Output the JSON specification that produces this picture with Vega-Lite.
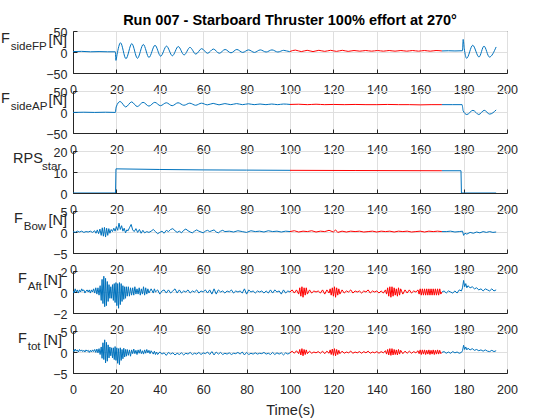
{
  "$schema": "https://vega.github.io/schema/vega-lite/v6.json",
  "background": "white",
  "padding": {"left": 0, "top": 12, "right": 0, "bottom": 0},
  "bounds": "flush",
  "spacing": 18,
  "title": {
    "text": "Run 007 - Starboard Thruster 100% effort at 270°",
    "fontSize": 14.5,
    "fontWeight": "bold",
    "color": "#000000",
    "anchor": "middle",
    "offset": -2
  },
  "config": {
    "font": "Liberation Sans",
    "view": {"stroke": "#262626", "strokeWidth": 1},
    "axis": {
      "domainColor": "#262626",
      "tickColor": "#262626",
      "labelColor": "#262626",
      "labelFont": "Liberation Sans",
      "labelFontSize": 12.5,
      "titleFont": "Liberation Sans",
      "titleFontSize": 14.5,
      "titleFontWeight": "normal",
      "titleColor": "#262626",
      "gridColor": "#dfdfdf",
      "grid": true,
      "tickSize": -4,
      "labelPadding": 10,
      "labelFlush": false,
      "labelOverlap": false
    },
    "axisX": {"labelPadding": 14},
    "axisY": {"labelOffset": 1.5},
    "title": {
      "font": "Liberation Sans",
      "fontSize": 14.5,
      "fontWeight": "normal",
      "color": "#262626",
      "subtitleFont": "Liberation Sans",
      "subtitleFontSize": 11.6,
      "subtitleColor": "#262626",
      "subtitlePadding": -5.4,
      "anchor": "start",
      "frame": "group",
      "offset": -27
    }
  },
  "datasets": {
    "fp": [
      {"t":0,"v":1,"s":"b1"},{"t":4,"v":1.5,"s":"b1"},{"t":8,"v":0.5,"s":"b1"},{"t":12,"v":1,"s":"b1"},{"t":16,"v":0.5,"s":"b1"},{"t":19.5,"v":0.5,"s":"b1"},
      {"t":19.8,"v":-20,"s":"b1"},{"t":20.3,"v":-6,"s":"b1"},{"t":21.9,"v":22,"s":"b1"},{"t":24.4,"v":-16,"s":"b1"},{"t":27.1,"v":20,"s":"b1"},{"t":29.7,"v":-15,"s":"b1"},
      {"t":32.4,"v":18,"s":"b1"},{"t":35,"v":-13,"s":"b1"},{"t":37.8,"v":16,"s":"b1"},{"t":40.4,"v":-10,"s":"b1"},{"t":43.1,"v":14,"s":"b1"},{"t":45.8,"v":-9,"s":"b1"},
      {"t":48.5,"v":13,"s":"b1"},{"t":51.2,"v":-7,"s":"b1"},{"t":53.9,"v":11,"s":"b1"},{"t":56.6,"v":-5,"s":"b1"},{"t":59.3,"v":8,"s":"b1"},{"t":62,"v":-3,"s":"b1"},
      {"t":64.7,"v":7,"s":"b1"},{"t":67.4,"v":-3,"s":"b1"},{"t":70.1,"v":6,"s":"b1"},{"t":72.8,"v":-2,"s":"b1"},{"t":75.5,"v":6,"s":"b1"},{"t":78.2,"v":-1,"s":"b1"},
      {"t":80.9,"v":5,"s":"b1"},{"t":83.6,"v":-1,"s":"b1"},{"t":86.3,"v":5,"s":"b1"},{"t":89,"v":0,"s":"b1"},{"t":91.7,"v":5,"s":"b1"},{"t":94.4,"v":0,"s":"b1"},
      {"t":97.1,"v":4,"s":"b1"},{"t":99.8,"v":1,"s":"b1"},{"t":100,"v":1.2,"s":"b1"},
      {"t":100,"v":1.2,"s":"r"},{"t":102.5,"v":4.5,"s":"r"},{"t":105.2,"v":1,"s":"r"},{"t":107.9,"v":4,"s":"r"},{"t":110.6,"v":1,"s":"r"},{"t":113.3,"v":4,"s":"r"},
      {"t":116,"v":1.5,"s":"r"},{"t":118.7,"v":4,"s":"r"},{"t":121.4,"v":1.5,"s":"r"},{"t":124.1,"v":4,"s":"r"},{"t":126.8,"v":1.5,"s":"r"},{"t":129.5,"v":3.5,"s":"r"},
      {"t":132.2,"v":2,"s":"r"},{"t":134.9,"v":3.5,"s":"r"},{"t":137.6,"v":2,"s":"r"},{"t":140.3,"v":3.5,"s":"r"},{"t":143,"v":2,"s":"r"},{"t":145.7,"v":3.5,"s":"r"},
      {"t":148.4,"v":2,"s":"r"},{"t":151.1,"v":3.5,"s":"r"},{"t":153.8,"v":2,"s":"r"},{"t":156.5,"v":3.5,"s":"r"},{"t":159.2,"v":2,"s":"r"},{"t":161.9,"v":3.5,"s":"r"},
      {"t":164.6,"v":2,"s":"r"},{"t":167.3,"v":3.5,"s":"r"},{"t":170,"v":2.5,"s":"r"},
      {"t":170,"v":2.5,"s":"b2"},{"t":173,"v":3,"s":"b2"},{"t":176,"v":2.5,"s":"b2"},{"t":179.5,"v":3,"s":"b2"},{"t":179.8,"v":30,"s":"b2"},{"t":180.3,"v":8,"s":"b2"},
      {"t":181.4,"v":-15,"s":"b2"},{"t":184.2,"v":16,"s":"b2"},{"t":187.1,"v":-12,"s":"b2"},{"t":189.4,"v":14,"s":"b2"},{"t":191.9,"v":-12,"s":"b2"},{"t":195,"v":12,"s":"b2"}
    ],
    "ap": [
      {"t":0,"v":-1,"s":"b1"},{"t":5,"v":-0.5,"s":"b1"},{"t":10,"v":-1,"s":"b1"},{"t":15,"v":-0.5,"s":"b1"},{"t":19.5,"v":-1,"s":"b1"},{"t":19.9,"v":12,"s":"b1"},
      {"t":21.7,"v":25,"s":"b1"},{"t":24.3,"v":12,"s":"b1"},{"t":27,"v":24,"s":"b1"},{"t":29.6,"v":13,"s":"b1"},{"t":32.3,"v":23,"s":"b1"},{"t":35,"v":14,"s":"b1"},
      {"t":37.7,"v":23,"s":"b1"},{"t":40.3,"v":15,"s":"b1"},{"t":43,"v":22,"s":"b1"},{"t":45.7,"v":15,"s":"b1"},{"t":48.4,"v":22,"s":"b1"},{"t":51.1,"v":16,"s":"b1"},
      {"t":53.8,"v":21,"s":"b1"},{"t":56.5,"v":16,"s":"b1"},{"t":59.2,"v":21,"s":"b1"},{"t":61.9,"v":17,"s":"b1"},{"t":64.6,"v":20.5,"s":"b1"},{"t":67.3,"v":17,"s":"b1"},
      {"t":70,"v":20,"s":"b1"},{"t":72.7,"v":17.5,"s":"b1"},{"t":75.4,"v":20,"s":"b1"},{"t":78.1,"v":17.5,"s":"b1"},{"t":80.8,"v":19.5,"s":"b1"},{"t":83.5,"v":17.5,"s":"b1"},
      {"t":86.2,"v":19,"s":"b1"},{"t":88.9,"v":17.5,"s":"b1"},{"t":91.6,"v":19,"s":"b1"},{"t":94.3,"v":17.5,"s":"b1"},{"t":97,"v":19,"s":"b1"},{"t":100,"v":18,"s":"b1"},
      {"t":100,"v":18,"s":"r"},{"t":104,"v":18.5,"s":"r"},{"t":108,"v":17.5,"s":"r"},{"t":112,"v":18.5,"s":"r"},{"t":116,"v":17.5,"s":"r"},{"t":120,"v":18,"s":"r"},
      {"t":125,"v":17.5,"s":"r"},{"t":130,"v":18,"s":"r"},{"t":135,"v":17.5,"s":"r"},{"t":140,"v":17.5,"s":"r"},{"t":145,"v":18,"s":"r"},{"t":150,"v":17.5,"s":"r"},
      {"t":155,"v":17.5,"s":"r"},{"t":160,"v":17,"s":"r"},{"t":165,"v":17.5,"s":"r"},{"t":170,"v":17.5,"s":"r"},
      {"t":170,"v":17.5,"s":"b2"},{"t":175,"v":17.5,"s":"b2"},{"t":179.3,"v":17.5,"s":"b2"},{"t":179.8,"v":3,"s":"b2"},{"t":181.5,"v":-6,"s":"b2"},{"t":184.3,"v":4,"s":"b2"},
      {"t":187,"v":-6,"s":"b2"},{"t":189.5,"v":4,"s":"b2"},{"t":192,"v":-5,"s":"b2"},{"t":195,"v":5,"s":"b2"}
    ],
    "rps": [
      {"t":0,"v":0,"s":"b1"},{"t":19.6,"v":0,"s":"b1"},{"t":19.8,"v":11.5,"s":"b1"},{"t":40,"v":11.2,"s":"b1"},{"t":60,"v":11,"s":"b1"},{"t":80,"v":10.9,"s":"b1"},{"t":100,"v":10.8,"s":"b1"},
      {"t":100,"v":10.8,"s":"r"},{"t":130,"v":10.7,"s":"r"},{"t":170,"v":10.6,"s":"r"},
      {"t":170,"v":10.6,"s":"b2"},{"t":178.8,"v":10.6,"s":"b2"},{"t":179,"v":0,"s":"b2"},{"t":195,"v":0,"s":"b2"}
    ],
    "bow": [
      {"t":0,"v":0.1,"s":"b1"},{"t":1,"v":-0.1,"s":"b1"},{"t":2,"v":0.2,"s":"b1"},{"t":3,"v":0,"s":"b1"},{"t":4,"v":0.2,"s":"b1"},{"t":5,"v":-0.1,"s":"b1"},
      {"t":6,"v":0.1,"s":"b1"},{"t":7,"v":0,"s":"b1"},{"t":8,"v":0.2,"s":"b1"},{"t":9,"v":-0.1,"s":"b1"},{"t":10,"v":0.3,"s":"b1"},{"t":10.6,"v":-0.3,"s":"b1"},
      {"t":11.2,"v":0.5,"s":"b1"},{"t":11.8,"v":-0.4,"s":"b1"},{"t":12.4,"v":0.7,"s":"b1"},{"t":13,"v":-0.8,"s":"b1"},{"t":13.5,"v":1,"s":"b1"},{"t":14,"v":-1,"s":"b1"},
      {"t":14.5,"v":1.1,"s":"b1"},{"t":15,"v":-1.2,"s":"b1"},{"t":15.5,"v":0.9,"s":"b1"},{"t":16,"v":-0.8,"s":"b1"},{"t":16.5,"v":0.8,"s":"b1"},{"t":17,"v":-0.3,"s":"b1"},
      {"t":17.6,"v":0.6,"s":"b1"},{"t":18.2,"v":0.1,"s":"b1"},{"t":18.8,"v":0.9,"s":"b1"},{"t":19.4,"v":0.2,"s":"b1"},{"t":20,"v":1.3,"s":"b1"},{"t":20.6,"v":0.4,"s":"b1"},
      {"t":21.2,"v":2.1,"s":"b1"},{"t":21.8,"v":0.6,"s":"b1"},{"t":22.4,"v":1.5,"s":"b1"},{"t":23,"v":0.2,"s":"b1"},{"t":23.6,"v":0.9,"s":"b1"},{"t":24.2,"v":-0.2,"s":"b1"},
      {"t":24.8,"v":0.5,"s":"b1"},{"t":25.4,"v":0.3,"s":"b1"},{"t":26,"v":1,"s":"b1"},{"t":26.8,"v":1.8,"s":"b1"},{"t":27.5,"v":0.5,"s":"b1"},{"t":28.2,"v":0.1,"s":"b1"},
      {"t":29,"v":0.8,"s":"b1"},{"t":29.8,"v":-0.1,"s":"b1"},{"t":30.6,"v":0.6,"s":"b1"},{"t":31.4,"v":-0.3,"s":"b1"},{"t":32.2,"v":0.4,"s":"b1"},{"t":33,"v":-0.2,"s":"b1"},
      {"t":34,"v":0.1,"s":"b1"},{"t":35,"v":-0.1,"s":"b1"},{"t":36,"v":0.2,"s":"b1"},{"t":37,"v":0.6,"s":"b1"},{"t":38,"v":0.1,"s":"b1"},{"t":39,"v":-0.4,"s":"b1"},
      {"t":40,"v":-0.1,"s":"b1"},{"t":41,"v":0.2,"s":"b1"},{"t":42,"v":-0.3,"s":"b1"},{"t":43,"v":0.4,"s":"b1"},{"t":44,"v":0.1,"s":"b1"},{"t":45,"v":0.6,"s":"b1"},
      {"t":46,"v":0.8,"s":"b1"},{"t":47,"v":0.3,"s":"b1"},{"t":48,"v":-0.1,"s":"b1"},{"t":49,"v":0.2,"s":"b1"},{"t":50,"v":-0.2,"s":"b1"},{"t":51,"v":0.4,"s":"b1"},
      {"t":52,"v":0.7,"s":"b1"},{"t":53,"v":0.3,"s":"b1"},{"t":54,"v":0,"s":"b1"},{"t":55,"v":-0.2,"s":"b1"},{"t":56,"v":0.2,"s":"b1"},{"t":57,"v":0.5,"s":"b1"},
      {"t":58,"v":0.2,"s":"b1"},{"t":59,"v":0,"s":"b1"},{"t":60,"v":-0.2,"s":"b1"},{"t":61,"v":0.2,"s":"b1"},{"t":62,"v":0.4,"s":"b1"},{"t":63,"v":0.1,"s":"b1"},
      {"t":64,"v":0.3,"s":"b1"},{"t":65,"v":0.5,"s":"b1"},{"t":66,"v":0,"s":"b1"},{"t":67,"v":-0.2,"s":"b1"},{"t":68,"v":0.2,"s":"b1"},{"t":69,"v":0.4,"s":"b1"},
      {"t":70,"v":0.1,"s":"b1"},{"t":72,"v":0.2,"s":"b1"},{"t":74,"v":0,"s":"b1"},{"t":76,"v":0.3,"s":"b1"},{"t":78,"v":0.1,"s":"b1"},{"t":80,"v":-0.1,"s":"b1"},
      {"t":82,"v":0.3,"s":"b1"},{"t":84,"v":0.1,"s":"b1"},{"t":86,"v":0.2,"s":"b1"},{"t":88,"v":0,"s":"b1"},{"t":90,"v":0.3,"s":"b1"},{"t":92,"v":0.1,"s":"b1"},
      {"t":94,"v":0.2,"s":"b1"},{"t":96,"v":0,"s":"b1"},{"t":98,"v":0.2,"s":"b1"},{"t":100,"v":0.1,"s":"b1"},
      {"t":100,"v":0.1,"s":"r"},{"t":102,"v":0.3,"s":"r"},{"t":104,"v":0,"s":"r"},{"t":106,"v":0.2,"s":"r"},{"t":108,"v":0.1,"s":"r"},{"t":110,"v":0.3,"s":"r"},
      {"t":112,"v":0,"s":"r"},{"t":114,"v":0.2,"s":"r"},{"t":116,"v":0.1,"s":"r"},{"t":118,"v":0.4,"s":"r"},{"t":120,"v":0,"s":"r"},{"t":121,"v":0.5,"s":"r"},
      {"t":122,"v":-0.1,"s":"r"},{"t":124,"v":0.2,"s":"r"},{"t":126,"v":0,"s":"r"},{"t":128,"v":0.2,"s":"r"},{"t":130,"v":0.1,"s":"r"},{"t":132,"v":0.2,"s":"r"},
      {"t":134,"v":0,"s":"r"},{"t":136,"v":0.1,"s":"r"},{"t":138,"v":0.2,"s":"r"},{"t":140,"v":0,"s":"r"},{"t":142,"v":0.2,"s":"r"},{"t":144,"v":0.1,"s":"r"},
      {"t":146,"v":0.2,"s":"r"},{"t":148,"v":0,"s":"r"},{"t":150,"v":0.2,"s":"r"},{"t":152,"v":0.1,"s":"r"},{"t":154,"v":0.2,"s":"r"},{"t":156,"v":0,"s":"r"},
      {"t":158,"v":0.1,"s":"r"},{"t":160,"v":0.2,"s":"r"},{"t":162,"v":0,"s":"r"},{"t":164,"v":0.2,"s":"r"},{"t":166,"v":0.1,"s":"r"},{"t":168,"v":0.2,"s":"r"},
      {"t":170,"v":0.1,"s":"r"},
      {"t":170,"v":0.1,"s":"b2"},{"t":172,"v":0.1,"s":"b2"},{"t":174,"v":0.2,"s":"b2"},{"t":176,"v":0,"s":"b2"},{"t":178,"v":0.1,"s":"b2"},{"t":179.5,"v":0.2,"s":"b2"},
      {"t":180,"v":-0.8,"s":"b2"},{"t":180.6,"v":-0.3,"s":"b2"},{"t":181.5,"v":-0.5,"s":"b2"},{"t":183,"v":-0.1,"s":"b2"},{"t":184.5,"v":-0.3,"s":"b2"},{"t":186,"v":0,"s":"b2"},
      {"t":187.5,"v":-0.2,"s":"b2"},{"t":189,"v":0.1,"s":"b2"},{"t":190.5,"v":-0.1,"s":"b2"},{"t":192,"v":0.1,"s":"b2"},{"t":193.5,"v":-0.1,"s":"b2"},{"t":195,"v":0,"s":"b2"}
    ],
    "aft": [
      {"t":0,"v":0.1,"s":"b1"},{"t":0.5,"v":-0.1,"s":"b1"},{"t":1,"v":0.3,"s":"b1"},{"t":1.5,"v":0,"s":"b1"},{"t":2,"v":0.2,"s":"b1"},{"t":2.5,"v":-0.1,"s":"b1"},
      {"t":3,"v":0.2,"s":"b1"},{"t":3.5,"v":0,"s":"b1"},{"t":4,"v":0.3,"s":"b1"},{"t":4.5,"v":0.1,"s":"b1"},{"t":5,"v":0.2,"s":"b1"},{"t":5.5,"v":-0.1,"s":"b1"},
      {"t":6,"v":0.1,"s":"b1"},{"t":6.5,"v":0.2,"s":"b1"},{"t":7,"v":0,"s":"b1"},{"t":7.5,"v":0.2,"s":"b1"},{"t":8,"v":-0.1,"s":"b1"},{"t":8.5,"v":0.2,"s":"b1"},
      {"t":9,"v":0,"s":"b1"},{"t":9.5,"v":0.3,"s":"b1"},{"t":10,"v":-0.1,"s":"b1"},{"t":10.5,"v":0.4,"s":"b1"},{"t":11,"v":-0.2,"s":"b1"},{"t":11.5,"v":0.4,"s":"b1"},
      {"t":12,"v":-0.3,"s":"b1"},{"t":12.5,"v":0.6,"s":"b1"},{"t":13,"v":-0.8,"s":"b1"},{"t":13.4,"v":1.2,"s":"b1"},{"t":13.8,"v":-1.1,"s":"b1"},{"t":14.2,"v":1.5,"s":"b1"},
      {"t":14.6,"v":-1.4,"s":"b1"},{"t":15,"v":1.3,"s":"b1"},{"t":15.4,"v":-1.3,"s":"b1"},{"t":15.8,"v":1,"s":"b1"},{"t":16.2,"v":-0.9,"s":"b1"},{"t":16.6,"v":0.7,"s":"b1"},
      {"t":17,"v":-0.6,"s":"b1"},{"t":17.4,"v":0.5,"s":"b1"},{"t":17.8,"v":-0.6,"s":"b1"},{"t":18.2,"v":0.7,"s":"b1"},{"t":18.6,"v":-0.8,"s":"b1"},{"t":19,"v":0.8,"s":"b1"},
      {"t":19.4,"v":-1,"s":"b1"},{"t":19.8,"v":0.9,"s":"b1"},{"t":20.2,"v":-1.3,"s":"b1"},{"t":20.6,"v":0.8,"s":"b1"},{"t":21,"v":-1.55,"s":"b1"},{"t":21.4,"v":0.9,"s":"b1"},
      {"t":21.8,"v":-1.2,"s":"b1"},{"t":22.2,"v":0.8,"s":"b1"},{"t":22.6,"v":-0.9,"s":"b1"},{"t":23,"v":0.6,"s":"b1"},{"t":23.4,"v":-0.7,"s":"b1"},{"t":23.8,"v":0.5,"s":"b1"},
      {"t":24.2,"v":-0.6,"s":"b1"},{"t":24.6,"v":0.5,"s":"b1"},{"t":25,"v":-0.4,"s":"b1"},{"t":25.5,"v":0.5,"s":"b1"},{"t":26,"v":-0.4,"s":"b1"},{"t":26.5,"v":0.4,"s":"b1"},
      {"t":27,"v":-0.3,"s":"b1"},{"t":27.5,"v":0.4,"s":"b1"},{"t":28,"v":-0.3,"s":"b1"},{"t":28.5,"v":0.5,"s":"b1"},{"t":29,"v":-0.2,"s":"b1"},{"t":29.5,"v":0.3,"s":"b1"},
      {"t":30,"v":-0.2,"s":"b1"},{"t":30.5,"v":0.4,"s":"b1"},{"t":31,"v":-0.3,"s":"b1"},{"t":31.5,"v":0.3,"s":"b1"},{"t":32,"v":-0.2,"s":"b1"},{"t":32.5,"v":0.5,"s":"b1"},
      {"t":33,"v":-0.3,"s":"b1"},{"t":33.5,"v":0.4,"s":"b1"},{"t":34,"v":-0.2,"s":"b1"},{"t":34.5,"v":0.3,"s":"b1"},{"t":35,"v":-0.1,"s":"b1"},{"t":36,"v":0.3,"s":"b1"},
      {"t":37,"v":-0.1,"s":"b1"},{"t":37.5,"v":0.3,"s":"b1"},{"t":38,"v":0,"s":"b1"},{"t":39,"v":0.2,"s":"b1"},{"t":40,"v":-0.2,"s":"b1"},{"t":41,"v":0.1,"s":"b1"},
      {"t":42,"v":0.2,"s":"b1"},{"t":43,"v":-0.1,"s":"b1"},{"t":44,"v":0.2,"s":"b1"},{"t":45,"v":-0.1,"s":"b1"},{"t":46,"v":0.1,"s":"b1"},{"t":47,"v":0.3,"s":"b1"},
      {"t":48,"v":-0.1,"s":"b1"},{"t":49,"v":0.2,"s":"b1"},{"t":50,"v":-0.1,"s":"b1"},{"t":51,"v":0.1,"s":"b1"},{"t":52,"v":0,"s":"b1"},{"t":53,"v":0.2,"s":"b1"},
      {"t":54,"v":-0.1,"s":"b1"},{"t":55,"v":0.1,"s":"b1"},{"t":56,"v":0,"s":"b1"},{"t":57,"v":0.2,"s":"b1"},{"t":58,"v":-0.1,"s":"b1"},{"t":59,"v":0.1,"s":"b1"},
      {"t":60,"v":0,"s":"b1"},{"t":61,"v":0.2,"s":"b1"},{"t":62,"v":-0.1,"s":"b1"},{"t":63,"v":0.2,"s":"b1"},{"t":64,"v":-0.2,"s":"b1"},{"t":65,"v":0.3,"s":"b1"},
      {"t":66,"v":-0.2,"s":"b1"},{"t":67,"v":0.2,"s":"b1"},{"t":68,"v":0,"s":"b1"},{"t":69,"v":0.1,"s":"b1"},{"t":70,"v":-0.1,"s":"b1"},{"t":71,"v":0.1,"s":"b1"},
      {"t":72,"v":0,"s":"b1"},{"t":73,"v":0.2,"s":"b1"},{"t":74,"v":-0.1,"s":"b1"},{"t":75,"v":0.1,"s":"b1"},{"t":76,"v":0,"s":"b1"},{"t":77,"v":0.1,"s":"b1"},
      {"t":78,"v":-0.1,"s":"b1"},{"t":79,"v":0.3,"s":"b1"},{"t":80,"v":-0.2,"s":"b1"},{"t":81,"v":0.2,"s":"b1"},{"t":82,"v":0,"s":"b1"},{"t":83,"v":0.1,"s":"b1"},
      {"t":84,"v":-0.1,"s":"b1"},{"t":85,"v":0.1,"s":"b1"},{"t":86,"v":0,"s":"b1"},{"t":87,"v":0.1,"s":"b1"},{"t":88,"v":-0.1,"s":"b1"},{"t":89,"v":0.1,"s":"b1"},
      {"t":90,"v":-0.1,"s":"b1"},{"t":91,"v":0.2,"s":"b1"},{"t":92,"v":-0.1,"s":"b1"},{"t":93,"v":0.2,"s":"b1"},{"t":94,"v":0,"s":"b1"},{"t":95,"v":0.1,"s":"b1"},
      {"t":96,"v":-0.2,"s":"b1"},{"t":97,"v":0.2,"s":"b1"},{"t":98,"v":-0.1,"s":"b1"},{"t":99,"v":0.1,"s":"b1"},{"t":100,"v":0,"s":"b1"},
      {"t":100,"v":0,"s":"r"},{"t":101,"v":0.2,"s":"r"},{"t":102,"v":-0.1,"s":"r"},{"t":103,"v":0.2,"s":"r"},{"t":104,"v":-0.2,"s":"r"},{"t":104.5,"v":0.4,"s":"r"},
      {"t":105,"v":-0.4,"s":"r"},{"t":105.5,"v":0.5,"s":"r"},{"t":106,"v":-0.5,"s":"r"},{"t":106.5,"v":0.4,"s":"r"},{"t":107,"v":-0.3,"s":"r"},{"t":107.5,"v":0.4,"s":"r"},
      {"t":108,"v":-0.2,"s":"r"},{"t":109,"v":0.2,"s":"r"},{"t":110,"v":-0.1,"s":"r"},{"t":111,"v":0.1,"s":"r"},{"t":112,"v":0,"s":"r"},{"t":113,"v":0.1,"s":"r"},
      {"t":114,"v":-0.1,"s":"r"},{"t":115,"v":0.2,"s":"r"},{"t":116,"v":-0.2,"s":"r"},{"t":117,"v":0.2,"s":"r"},{"t":118,"v":-0.1,"s":"r"},{"t":118.5,"v":0.3,"s":"r"},
      {"t":119,"v":-0.3,"s":"r"},{"t":119.5,"v":0.4,"s":"r"},{"t":120,"v":-0.4,"s":"r"},{"t":120.5,"v":0.5,"s":"r"},{"t":121,"v":-0.5,"s":"r"},{"t":121.5,"v":0.4,"s":"r"},
      {"t":122,"v":-0.3,"s":"r"},{"t":122.5,"v":0.3,"s":"r"},{"t":123,"v":-0.2,"s":"r"},{"t":124,"v":0.2,"s":"r"},{"t":125,"v":-0.1,"s":"r"},{"t":126,"v":0.1,"s":"r"},
      {"t":127,"v":0,"s":"r"},{"t":128,"v":0.2,"s":"r"},{"t":129,"v":-0.1,"s":"r"},{"t":130,"v":0.1,"s":"r"},{"t":131,"v":0,"s":"r"},{"t":132,"v":0.1,"s":"r"},
      {"t":133,"v":-0.1,"s":"r"},{"t":134,"v":0.1,"s":"r"},{"t":135,"v":0,"s":"r"},{"t":136,"v":0.2,"s":"r"},{"t":137,"v":-0.1,"s":"r"},{"t":138,"v":0.1,"s":"r"},
      {"t":139,"v":0,"s":"r"},{"t":140,"v":0.1,"s":"r"},{"t":141,"v":-0.1,"s":"r"},{"t":142,"v":0.1,"s":"r"},{"t":143,"v":-0.1,"s":"r"},{"t":144,"v":0.2,"s":"r"},
      {"t":144.5,"v":-0.2,"s":"r"},{"t":145,"v":0.4,"s":"r"},{"t":145.5,"v":-0.4,"s":"r"},{"t":146,"v":0.5,"s":"r"},{"t":146.5,"v":-0.5,"s":"r"},{"t":147,"v":0.5,"s":"r"},
      {"t":147.5,"v":-0.4,"s":"r"},{"t":148,"v":0.4,"s":"r"},{"t":148.5,"v":-0.3,"s":"r"},{"t":149,"v":0.3,"s":"r"},{"t":149.5,"v":-0.4,"s":"r"},{"t":150,"v":0.4,"s":"r"},
      {"t":150.5,"v":-0.3,"s":"r"},{"t":151,"v":0.3,"s":"r"},{"t":152,"v":-0.2,"s":"r"},{"t":153,"v":0.2,"s":"r"},{"t":154,"v":-0.1,"s":"r"},{"t":155,"v":0.2,"s":"r"},
      {"t":156,"v":-0.1,"s":"r"},{"t":157,"v":0.1,"s":"r"},{"t":158,"v":0,"s":"r"},{"t":159,"v":0.2,"s":"r"},{"t":159.5,"v":-0.2,"s":"r"},{"t":160,"v":0.3,"s":"r"},
      {"t":160.5,"v":-0.3,"s":"r"},{"t":161,"v":0.3,"s":"r"},{"t":161.5,"v":-0.3,"s":"r"},{"t":162,"v":0.3,"s":"r"},{"t":162.5,"v":-0.3,"s":"r"},{"t":163,"v":0.3,"s":"r"},
      {"t":163.5,"v":-0.3,"s":"r"},{"t":164,"v":0.3,"s":"r"},{"t":164.5,"v":-0.3,"s":"r"},{"t":165,"v":0.3,"s":"r"},{"t":165.5,"v":-0.3,"s":"r"},{"t":166,"v":0.3,"s":"r"},
      {"t":166.5,"v":-0.3,"s":"r"},{"t":167,"v":0.3,"s":"r"},{"t":167.5,"v":-0.3,"s":"r"},{"t":168,"v":0.3,"s":"r"},{"t":168.5,"v":-0.3,"s":"r"},{"t":169,"v":0.3,"s":"r"},
      {"t":169.5,"v":-0.2,"s":"r"},{"t":170,"v":0,"s":"r"},
      {"t":170,"v":0,"s":"b2"},{"t":171,"v":0.1,"s":"b2"},{"t":172,"v":-0.1,"s":"b2"},{"t":173,"v":0.1,"s":"b2"},{"t":174,"v":0,"s":"b2"},{"t":175,"v":-0.1,"s":"b2"},
      {"t":176,"v":0.1,"s":"b2"},{"t":177,"v":-0.1,"s":"b2"},{"t":178,"v":0.2,"s":"b2"},{"t":179,"v":0.1,"s":"b2"},{"t":179.5,"v":0.4,"s":"b2"},{"t":180,"v":1.1,"s":"b2"},
      {"t":180.5,"v":0.5,"s":"b2"},{"t":181,"v":0.8,"s":"b2"},{"t":181.5,"v":0.4,"s":"b2"},{"t":182,"v":0.6,"s":"b2"},{"t":183,"v":0.4,"s":"b2"},{"t":184,"v":0.5,"s":"b2"},
      {"t":185,"v":0.3,"s":"b2"},{"t":186,"v":0.4,"s":"b2"},{"t":187,"v":0.2,"s":"b2"},{"t":188,"v":0.3,"s":"b2"},{"t":189,"v":0.1,"s":"b2"},{"t":190,"v":0.3,"s":"b2"},
      {"t":191,"v":0.2,"s":"b2"},{"t":192,"v":0.1,"s":"b2"},{"t":193,"v":0.3,"s":"b2"},{"t":194,"v":0.1,"s":"b2"},{"t":195,"v":0.2,"s":"b2"}
    ],
    "tot": [
      {"t":0,"v":0.5,"s":"b1"},{"t":0.5,"v":0.1,"s":"b1"},{"t":1,"v":0.7,"s":"b1"},{"t":1.5,"v":0.2,"s":"b1"},{"t":2,"v":0.5,"s":"b1"},{"t":2.5,"v":0,"s":"b1"},
      {"t":3,"v":0.6,"s":"b1"},{"t":3.5,"v":0.2,"s":"b1"},{"t":4,"v":0.5,"s":"b1"},{"t":4.5,"v":0.1,"s":"b1"},{"t":5,"v":0.4,"s":"b1"},{"t":5.5,"v":0,"s":"b1"},
      {"t":6,"v":0.5,"s":"b1"},{"t":6.5,"v":0.2,"s":"b1"},{"t":7,"v":0.4,"s":"b1"},{"t":7.5,"v":-0.1,"s":"b1"},{"t":8,"v":0.4,"s":"b1"},{"t":8.5,"v":0,"s":"b1"},
      {"t":9,"v":0.5,"s":"b1"},{"t":9.5,"v":0.1,"s":"b1"},{"t":10,"v":0.6,"s":"b1"},{"t":10.5,"v":-0.1,"s":"b1"},{"t":11,"v":0.7,"s":"b1"},{"t":11.5,"v":-0.2,"s":"b1"},
      {"t":12,"v":0.8,"s":"b1"},{"t":12.5,"v":-0.6,"s":"b1"},{"t":13,"v":1.2,"s":"b1"},{"t":13.4,"v":-1.5,"s":"b1"},{"t":13.8,"v":2.2,"s":"b1"},{"t":14.2,"v":-1.8,"s":"b1"},
      {"t":14.6,"v":2.9,"s":"b1"},{"t":15,"v":-2.6,"s":"b1"},{"t":15.4,"v":2.3,"s":"b1"},{"t":15.8,"v":-2.2,"s":"b1"},{"t":16.2,"v":1.7,"s":"b1"},{"t":16.6,"v":-1.4,"s":"b1"},
      {"t":17,"v":1.2,"s":"b1"},{"t":17.4,"v":-0.9,"s":"b1"},{"t":17.8,"v":1,"s":"b1"},{"t":18.2,"v":-1.4,"s":"b1"},{"t":18.6,"v":1,"s":"b1"},{"t":19,"v":-1.8,"s":"b1"},
      {"t":19.4,"v":1.3,"s":"b1"},{"t":19.8,"v":-2,"s":"b1"},{"t":20.2,"v":1,"s":"b1"},{"t":20.6,"v":-2.7,"s":"b1"},{"t":21,"v":0.8,"s":"b1"},{"t":21.4,"v":-3,"s":"b1"},
      {"t":21.8,"v":1,"s":"b1"},{"t":22.2,"v":-2,"s":"b1"},{"t":22.6,"v":0.6,"s":"b1"},{"t":23,"v":-1.6,"s":"b1"},{"t":23.4,"v":0.9,"s":"b1"},{"t":23.8,"v":-1.2,"s":"b1"},
      {"t":24.2,"v":0.6,"s":"b1"},{"t":24.6,"v":-1,"s":"b1"},{"t":25,"v":0.6,"s":"b1"},{"t":25.5,"v":-0.8,"s":"b1"},{"t":26,"v":0.5,"s":"b1"},{"t":26.5,"v":-1,"s":"b1"},
      {"t":27,"v":0.5,"s":"b1"},{"t":27.5,"v":-0.4,"s":"b1"},{"t":28,"v":0.7,"s":"b1"},{"t":28.5,"v":-0.4,"s":"b1"},{"t":29,"v":0.4,"s":"b1"},{"t":29.5,"v":-0.6,"s":"b1"},
      {"t":30,"v":0.5,"s":"b1"},{"t":30.5,"v":-0.3,"s":"b1"},{"t":31,"v":0.6,"s":"b1"},{"t":31.5,"v":-0.4,"s":"b1"},{"t":32,"v":0.3,"s":"b1"},{"t":32.5,"v":-0.5,"s":"b1"},
      {"t":33,"v":0.5,"s":"b1"},{"t":33.5,"v":-0.3,"s":"b1"},{"t":34,"v":0.6,"s":"b1"},{"t":34.5,"v":-0.2,"s":"b1"},{"t":35,"v":0.4,"s":"b1"},{"t":35.5,"v":-0.4,"s":"b1"},
      {"t":36,"v":0.3,"s":"b1"},{"t":37,"v":-0.5,"s":"b1"},{"t":37.5,"v":0.2,"s":"b1"},{"t":38,"v":-0.6,"s":"b1"},{"t":38.5,"v":0,"s":"b1"},{"t":39,"v":-0.6,"s":"b1"},
      {"t":40,"v":0,"s":"b1"},{"t":41,"v":-0.5,"s":"b1"},{"t":42,"v":-0.2,"s":"b1"},{"t":43,"v":-0.8,"s":"b1"},{"t":44,"v":-0.1,"s":"b1"},{"t":45,"v":-0.5,"s":"b1"},
      {"t":46,"v":-0.2,"s":"b1"},{"t":47,"v":-0.7,"s":"b1"},{"t":48,"v":-0.3,"s":"b1"},{"t":49,"v":-0.6,"s":"b1"},{"t":50,"v":-0.2,"s":"b1"},{"t":51,"v":-0.7,"s":"b1"},
      {"t":52,"v":-0.3,"s":"b1"},{"t":53,"v":-0.5,"s":"b1"},{"t":54,"v":-0.1,"s":"b1"},{"t":55,"v":-0.6,"s":"b1"},{"t":56,"v":-0.3,"s":"b1"},{"t":57,"v":-0.5,"s":"b1"},
      {"t":58,"v":-0.1,"s":"b1"},{"t":59,"v":-0.6,"s":"b1"},{"t":60,"v":-0.2,"s":"b1"},{"t":61,"v":-0.4,"s":"b1"},{"t":62,"v":0,"s":"b1"},{"t":63,"v":-0.6,"s":"b1"},
      {"t":64,"v":0.1,"s":"b1"},{"t":65,"v":-0.7,"s":"b1"},{"t":66,"v":0,"s":"b1"},{"t":67,"v":-0.5,"s":"b1"},{"t":68,"v":-0.1,"s":"b1"},{"t":69,"v":-0.6,"s":"b1"},
      {"t":70,"v":-0.3,"s":"b1"},{"t":71,"v":-0.5,"s":"b1"},{"t":72,"v":-0.2,"s":"b1"},{"t":73,"v":-0.6,"s":"b1"},{"t":74,"v":-0.3,"s":"b1"},{"t":75,"v":-0.4,"s":"b1"},
      {"t":76,"v":-0.1,"s":"b1"},{"t":77,"v":-0.5,"s":"b1"},{"t":78,"v":0,"s":"b1"},{"t":79,"v":-0.7,"s":"b1"},{"t":80,"v":-0.1,"s":"b1"},{"t":81,"v":-0.6,"s":"b1"},
      {"t":82,"v":-0.3,"s":"b1"},{"t":83,"v":-0.5,"s":"b1"},{"t":84,"v":-0.2,"s":"b1"},{"t":85,"v":-0.5,"s":"b1"},{"t":86,"v":-0.3,"s":"b1"},{"t":87,"v":-0.4,"s":"b1"},
      {"t":88,"v":-0.1,"s":"b1"},{"t":89,"v":-0.5,"s":"b1"},{"t":90,"v":-0.3,"s":"b1"},{"t":91,"v":-0.6,"s":"b1"},{"t":92,"v":-0.1,"s":"b1"},{"t":93,"v":-0.6,"s":"b1"},
      {"t":94,"v":-0.2,"s":"b1"},{"t":95,"v":-0.5,"s":"b1"},{"t":96,"v":-0.2,"s":"b1"},{"t":97,"v":-0.7,"s":"b1"},{"t":98,"v":-0.2,"s":"b1"},{"t":99,"v":-0.5,"s":"b1"},
      {"t":100,"v":-0.2,"s":"b1"},
      {"t":100,"v":-0.2,"s":"r"},{"t":101,"v":0.2,"s":"r"},{"t":102,"v":-0.3,"s":"r"},{"t":103,"v":0.3,"s":"r"},{"t":104,"v":-0.4,"s":"r"},{"t":104.5,"v":0.6,"s":"r"},
      {"t":105,"v":-0.7,"s":"r"},{"t":105.5,"v":0.8,"s":"r"},{"t":106,"v":-0.9,"s":"r"},{"t":106.5,"v":0.6,"s":"r"},{"t":107,"v":-0.6,"s":"r"},{"t":107.5,"v":0.5,"s":"r"},
      {"t":108,"v":-0.4,"s":"r"},{"t":109,"v":0.2,"s":"r"},{"t":110,"v":-0.3,"s":"r"},{"t":111,"v":0,"s":"r"},{"t":112,"v":-0.2,"s":"r"},{"t":113,"v":0.1,"s":"r"},
      {"t":114,"v":-0.3,"s":"r"},{"t":115,"v":0.2,"s":"r"},{"t":116,"v":-0.4,"s":"r"},{"t":117,"v":0.2,"s":"r"},{"t":118,"v":-0.3,"s":"r"},{"t":118.5,"v":0.5,"s":"r"},
      {"t":119,"v":-0.6,"s":"r"},{"t":119.5,"v":0.7,"s":"r"},{"t":120,"v":-0.8,"s":"r"},{"t":120.5,"v":0.8,"s":"r"},{"t":121,"v":-0.9,"s":"r"},{"t":121.5,"v":0.6,"s":"r"},
      {"t":122,"v":-0.6,"s":"r"},{"t":122.5,"v":0.4,"s":"r"},{"t":123,"v":-0.4,"s":"r"},{"t":124,"v":0.2,"s":"r"},{"t":125,"v":-0.3,"s":"r"},{"t":126,"v":0,"s":"r"},
      {"t":127,"v":-0.2,"s":"r"},{"t":128,"v":0.2,"s":"r"},{"t":129,"v":-0.3,"s":"r"},{"t":130,"v":0,"s":"r"},{"t":131,"v":-0.2,"s":"r"},{"t":132,"v":0.1,"s":"r"},
      {"t":133,"v":-0.3,"s":"r"},{"t":134,"v":0.1,"s":"r"},{"t":135,"v":-0.2,"s":"r"},{"t":136,"v":0.2,"s":"r"},{"t":137,"v":-0.3,"s":"r"},{"t":138,"v":0,"s":"r"},
      {"t":139,"v":-0.2,"s":"r"},{"t":140,"v":0.1,"s":"r"},{"t":141,"v":-0.3,"s":"r"},{"t":142,"v":0.1,"s":"r"},{"t":143,"v":-0.2,"s":"r"},{"t":144,"v":0.3,"s":"r"},
      {"t":144.5,"v":-0.5,"s":"r"},{"t":145,"v":0.6,"s":"r"},{"t":145.5,"v":-0.7,"s":"r"},{"t":146,"v":0.8,"s":"r"},{"t":146.5,"v":-0.8,"s":"r"},{"t":147,"v":0.8,"s":"r"},
      {"t":147.5,"v":-0.7,"s":"r"},{"t":148,"v":0.6,"s":"r"},{"t":148.5,"v":-0.6,"s":"r"},{"t":149,"v":0.5,"s":"r"},{"t":149.5,"v":-0.7,"s":"r"},{"t":150,"v":0.6,"s":"r"},
      {"t":150.5,"v":-0.5,"s":"r"},{"t":151,"v":0.4,"s":"r"},{"t":152,"v":-0.4,"s":"r"},{"t":153,"v":0.2,"s":"r"},{"t":154,"v":-0.3,"s":"r"},{"t":155,"v":0.2,"s":"r"},
      {"t":156,"v":-0.3,"s":"r"},{"t":157,"v":0.1,"s":"r"},{"t":158,"v":-0.2,"s":"r"},{"t":159,"v":0.3,"s":"r"},{"t":159.5,"v":-0.4,"s":"r"},{"t":160,"v":0.5,"s":"r"},
      {"t":160.5,"v":-0.6,"s":"r"},{"t":161,"v":0.5,"s":"r"},{"t":161.5,"v":-0.5,"s":"r"},{"t":162,"v":0.5,"s":"r"},{"t":162.5,"v":-0.6,"s":"r"},{"t":163,"v":0.4,"s":"r"},
      {"t":163.5,"v":-0.5,"s":"r"},{"t":164,"v":0.5,"s":"r"},{"t":164.5,"v":-0.6,"s":"r"},{"t":165,"v":0.4,"s":"r"},{"t":165.5,"v":-0.5,"s":"r"},{"t":166,"v":0.5,"s":"r"},
      {"t":166.5,"v":-0.6,"s":"r"},{"t":167,"v":0.4,"s":"r"},{"t":167.5,"v":-0.5,"s":"r"},{"t":168,"v":0.5,"s":"r"},{"t":168.5,"v":-0.5,"s":"r"},{"t":169,"v":0.4,"s":"r"},
      {"t":169.5,"v":-0.4,"s":"r"},{"t":170,"v":-0.1,"s":"r"},
      {"t":170,"v":-0.1,"s":"b2"},{"t":171,"v":0.1,"s":"b2"},{"t":172,"v":-0.3,"s":"b2"},{"t":173,"v":0,"s":"b2"},{"t":174,"v":-0.3,"s":"b2"},{"t":175,"v":0.1,"s":"b2"},
      {"t":176,"v":-0.2,"s":"b2"},{"t":177,"v":0,"s":"b2"},{"t":178,"v":-0.3,"s":"b2"},{"t":179,"v":-0.1,"s":"b2"},{"t":179.5,"v":0.3,"s":"b2"},{"t":180,"v":1.6,"s":"b2"},
      {"t":180.5,"v":0.6,"s":"b2"},{"t":181,"v":1.2,"s":"b2"},{"t":181.5,"v":0.5,"s":"b2"},{"t":182,"v":0.9,"s":"b2"},{"t":183,"v":0.5,"s":"b2"},{"t":184,"v":0.8,"s":"b2"},
      {"t":185,"v":0.4,"s":"b2"},{"t":186,"v":0.6,"s":"b2"},{"t":187,"v":0.3,"s":"b2"},{"t":188,"v":0.5,"s":"b2"},{"t":189,"v":0.2,"s":"b2"},{"t":190,"v":0.5,"s":"b2"},
      {"t":191,"v":0.2,"s":"b2"},{"t":192,"v":0.1,"s":"b2"},{"t":193,"v":0.4,"s":"b2"},{"t":194,"v":0.1,"s":"b2"},{"t":195,"v":0.3,"s":"b2"}
    ]
  },
  "vconcat": [
    {
      "width": 434, "height": 42,
      "data": {"name": "fp"},
      "title": {"text": "F", "subtitle": "\u200b\u00a0\u00a0\u00a0sideFP", "dx": -72},
      "mark": {"type": "line", "strokeWidth": 1, "clip": true, "interpolate": "monotone"},
      "encoding": {
        "x": {"field": "t", "type": "quantitative", "scale": {"domain": [0, 200]}, "axis": {"values": [0, 20, 40, 60, 80, 100, 120, 140, 160, 180, 200], "title": null}},
        "y": {"field": "v", "type": "quantitative", "scale": {"domain": [-50, 50]}, "axis": {"values": [-50, 0, 50], "title": "[N]", "titleAngle": 0, "titleAlign": "left", "titleBaseline": "alphabetic", "titleX": -25, "titleY": 13.5}},
        "color": {"field": "s", "type": "nominal", "scale": {"domain": ["b1", "r", "b2"], "range": ["#0072BD", "#FF0000", "#0072BD"]}, "legend": null}
      }
    },
    {
      "width": 434, "height": 42,
      "data": {"name": "ap"},
      "title": {"text": "F", "subtitle": "\u200b\u00a0\u00a0\u00a0sideAP", "dx": -72},
      "mark": {"type": "line", "strokeWidth": 1, "clip": true, "interpolate": "monotone"},
      "encoding": {
        "x": {"field": "t", "type": "quantitative", "scale": {"domain": [0, 200]}, "axis": {"values": [0, 20, 40, 60, 80, 100, 120, 140, 160, 180, 200], "title": null}},
        "y": {"field": "v", "type": "quantitative", "scale": {"domain": [-50, 50]}, "axis": {"values": [-50, 0, 50], "title": "[N]", "titleAngle": 0, "titleAlign": "left", "titleBaseline": "alphabetic", "titleX": -25, "titleY": 13.5}},
        "color": {"field": "s", "type": "nominal", "scale": {"domain": ["b1", "r", "b2"], "range": ["#0072BD", "#FF0000", "#0072BD"]}, "legend": null}
      }
    },
    {
      "width": 434, "height": 42,
      "data": {"name": "rps"},
      "title": {"text": "RPS", "subtitle": "\u200b\u00a0\u00a0\u00a0\u00a0\u00a0\u00a0\u00a0\u00a0\u00a0star", "dx": -60},
      "mark": {"type": "line", "strokeWidth": 1, "clip": true},
      "encoding": {
        "x": {"field": "t", "type": "quantitative", "scale": {"domain": [0, 200]}, "axis": {"values": [0, 20, 40, 60, 80, 100, 120, 140, 160, 180, 200], "title": null}},
        "y": {"field": "v", "type": "quantitative", "scale": {"domain": [0, 20]}, "axis": {"values": [0, 10, 20], "title": null}},
        "color": {"field": "s", "type": "nominal", "scale": {"domain": ["b1", "r", "b2"], "range": ["#0072BD", "#FF0000", "#0072BD"]}, "legend": null}
      }
    },
    {
      "width": 434, "height": 42,
      "data": {"name": "bow"},
      "title": {"text": "F", "subtitle": "\u200b\u00a0\u00a0\u00a0Bow", "dx": -59},
      "mark": {"type": "line", "strokeWidth": 1, "clip": true},
      "encoding": {
        "x": {"field": "t", "type": "quantitative", "scale": {"domain": [0, 200]}, "axis": {"values": [0, 20, 40, 60, 80, 100, 120, 140, 160, 180, 200], "title": null}},
        "y": {"field": "v", "type": "quantitative", "scale": {"domain": [-5, 5]}, "axis": {"values": [-5, 0, 5], "title": "[N]", "titleAngle": 0, "titleAlign": "left", "titleBaseline": "alphabetic", "titleX": -25, "titleY": 13.5}},
        "color": {"field": "s", "type": "nominal", "scale": {"domain": ["b1", "r", "b2"], "range": ["#0072BD", "#FF0000", "#0072BD"]}, "legend": null}
      }
    },
    {
      "width": 434, "height": 42,
      "data": {"name": "aft"},
      "title": {"text": "F", "subtitle": "\u200b\u00a0\u00a0\u00a0Aft", "dx": -55},
      "mark": {"type": "line", "strokeWidth": 1, "clip": true},
      "encoding": {
        "x": {"field": "t", "type": "quantitative", "scale": {"domain": [0, 200]}, "axis": {"values": [0, 20, 40, 60, 80, 100, 120, 140, 160, 180, 200], "title": null}},
        "y": {"field": "v", "type": "quantitative", "scale": {"domain": [-2, 2]}, "axis": {"values": [-2, 0, 2], "title": "[N]", "titleAngle": 0, "titleAlign": "left", "titleBaseline": "alphabetic", "titleX": -30, "titleY": 13.5}},
        "color": {"field": "s", "type": "nominal", "scale": {"domain": ["b1", "r", "b2"], "range": ["#0072BD", "#FF0000", "#0072BD"]}, "legend": null}
      }
    },
    {
      "width": 434, "height": 42,
      "data": {"name": "tot"},
      "title": {"text": "F", "subtitle": "\u200b\u00a0\u00a0\u00a0tot", "dx": -55},
      "mark": {"type": "line", "strokeWidth": 1, "clip": true},
      "encoding": {
        "x": {"field": "t", "type": "quantitative", "scale": {"domain": [0, 200]}, "axis": {"values": [0, 20, 40, 60, 80, 100, 120, 140, 160, 180, 200], "title": "Time(s)", "titlePadding": 8}},
        "y": {"field": "v", "type": "quantitative", "scale": {"domain": [-5, 5]}, "axis": {"values": [-5, 0, 5], "title": "[N]", "titleAngle": 0, "titleAlign": "left", "titleBaseline": "alphabetic", "titleX": -30, "titleY": 13.5}},
        "color": {"field": "s", "type": "nominal", "scale": {"domain": ["b1", "r", "b2"], "range": ["#0072BD", "#FF0000", "#0072BD"]}, "legend": null}
      }
    }
  ]
}
